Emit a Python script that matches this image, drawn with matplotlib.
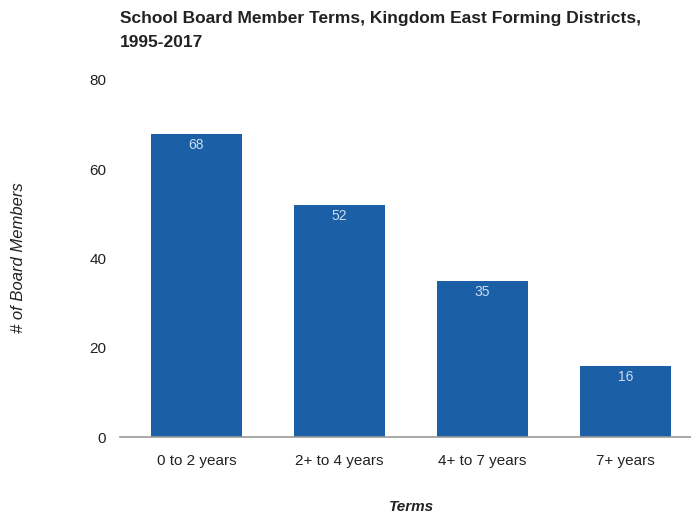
import matplotlib
matplotlib.use("Agg")
import matplotlib.pyplot as plt

categories = ["0 to 2 years", "2+ to 4 years", "4+ to 7 years", "7+ years"]
members = [68, 52, 35, 16]
y_ticks = [0, 20, 40, 60, 80]

plt.rcParams["font.family"] = ["Liberation Sans", "DejaVu Sans"]

fig = plt.figure(figsize=(6.91, 5.16), dpi=100)
ax = fig.add_axes([0.1737, 0.153, 0.8263, 0.692])

bar_color = "#1b5fa6"
x = list(range(len(categories)))
bars = ax.bar(x, members, width=0.635, color=bar_color, zorder=2)

for xi, v in zip(x, members):
    ax.text(xi, v - 0.9, str(v), ha="center", va="top", color="#c9dcf0",
            fontsize=10, zorder=3)

ax.set_xlim(-0.535, 3.46)
ax.set_ylim(0, 80)
ax.set_yticks(y_ticks)
ax.set_xticks(x)
ax.set_xticklabels(categories)
ax.tick_params(axis="both", length=0, labelsize=11, colors="#222222")
ax.tick_params(axis="y", pad=10)
ax.tick_params(axis="x", pad=12)

for side in ["top", "right", "left"]:
    ax.spines[side].set_visible(False)
ax.spines["bottom"].set_color("#9a9a9a")
ax.spines["bottom"].set_linewidth(1.2)

# axis titles placed in figure coordinates
fig.text(0.595, 0.018, "Terms", ha="center", va="center", fontsize=11,
         fontstyle="italic", fontweight="bold", color="#222222")
fig.text(0.027, 0.50, "# of Board Members", rotation=90, ha="center",
         va="center", fontsize=12, fontstyle="italic", color="#222222")

fig.text(0.1737, 0.978, "School Board Member Terms, Kingdom East Forming Districts,\n1995-2017",
         ha="left", va="top", fontsize=12.5, fontweight="bold", color="#222222",
         linespacing=1.7)

fig.savefig("out.png", dpi=100)
